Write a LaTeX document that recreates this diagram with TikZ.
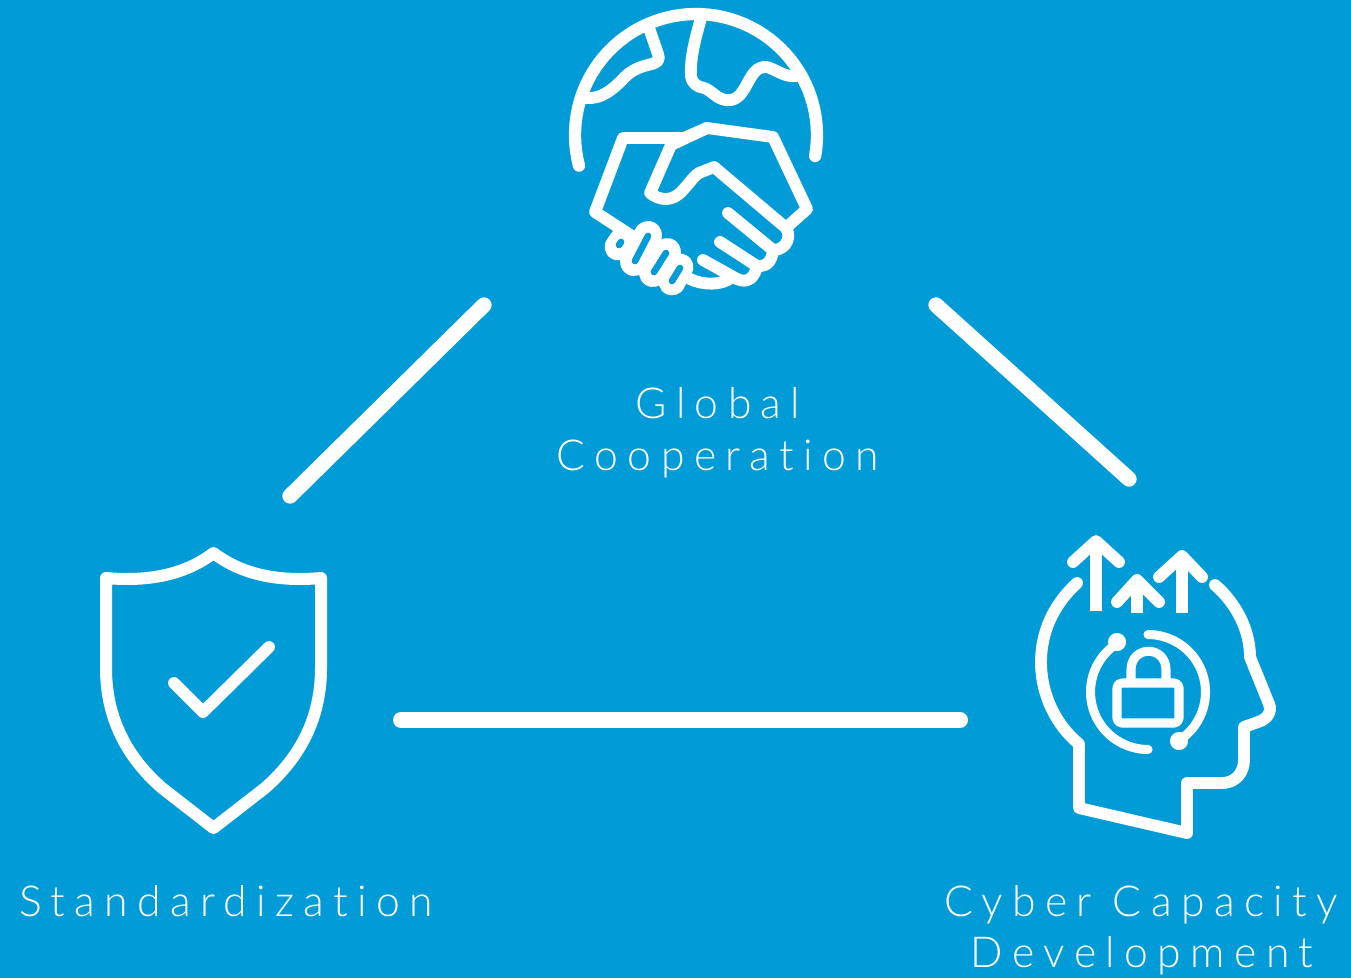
\documentclass[tikz,border=0pt]{standalone}
\usepackage{fontspec}
\setmainfont[LetterSpace=22,Ligatures={NoCommon}]{Lato Light}
\definecolor{bg}{HTML}{019BD7}
\tikzset{
  ico/.style={draw=white,line width=8.9pt,line cap=round,line join=round},
  thin/.style={draw=white,line width=6.8pt,line cap=round,line join=round},
  link/.style={draw=white,line width=11.5pt,line cap=round},
  lbl/.style={text=white,font=\fontsize{32}{32}\selectfont,inner sep=0pt,anchor=base}
}
\begin{document}
\begin{tikzpicture}[x=0.75pt,y=-0.75pt]
\useasboundingbox (0,0) rectangle (1351,978);
\fill[bg] (0,0) rectangle (1351,978);
% connector ends
\coordinate (a1) at (484,305); \coordinate (a2) at (290,496);
\coordinate (b1) at (936,305); \coordinate (b2) at (1129,479);
\coordinate (c1) at (401,720); \coordinate (c2) at (960,720);
\draw[link] (a1) -- (a2);
\draw[link] (b1) -- (b2);
\draw[link,line width=12pt] (c1) -- (c2);
% globe
\draw[ico,line width=9.2pt] plot[domain=-10:194.7,samples=60,variable=\t] ({696+121*cos(\t)},{135-121*sin(\t)});
\draw[ico] (649,28) -- (658,54) .. controls (660,60) and (658,62) .. (652,64)
  .. controls (638,67) and (630,71) .. (622,80) .. controls (610,92) and (600,99) .. (586,98);
\draw[ico] (701,18) .. controls (695,40) and (690,58) .. (691,76)
  .. controls (692,84) and (698,87) .. (704,88) .. controls (712,90) and (718,102) .. (731,100)
  .. controls (748,97) and (748,66) .. (766,67) .. controls (774,68) and (785,78) .. (796,76);
% handshake
\draw[ico] (638,240) -- (595,212) -- (623,138) -- (684,138) -- (707,128) -- (773,137) -- (807,209) -- (788,226);
\draw[ico] (707,128) -- (671,145) -- (650,193) .. controls (660,201) and (673,202) .. (683,190)
  .. controls (692,180) and (695,175) .. (699,173) -- (714,167) -- (785,227)
  .. controls (792,234) and (788,250) .. (773,250);
\draw[ico] (728,213) -- (773,250);
\draw[ico] (773,250) .. controls (772,260) and (768,267) .. (757,266);
\draw[ico] (720,242) -- (757,266);
\draw[ico] (757,266) .. controls (755,277) and (748,284) .. (737,279);
\draw[ico] (703,260) -- (737,279);
\draw[ico] (690,279) .. controls (702,285) and (722,286) .. (732,277);
% fingers
\foreach \ax/\ay/\bx/\by/\w in {622/241/618/247/20,648/235/634/262/21,667/252/653/273/21,680/267/672/282/20}{
  \draw[white,line width=\w pt,line cap=round] (\ax,\ay) -- (\bx,\by);
}
\foreach \ax/\ay/\bx/\by in {621/242/619/245,648/236/635/261,666/253/654/272,680/268/672/281}{
  \draw[bg,line width=5pt,line cap=round] (\ax,\ay) -- (\bx,\by);
}
% shield
\draw[ico,line width=9pt] (213.5,553) .. controls (186,574) and (150,582) .. (106,578) -- (106,668)
  .. controls (106,712) and (122,753) .. (162,788) -- (213.5,828) -- (265,788)
  .. controls (305,753) and (321,712) .. (321,668) -- (321,578)
  .. controls (277,582) and (241,574) .. (213.5,553) -- cycle;
\draw[ico] (174,683) -- (203,712) -- (269,647);
% head
\draw[ico] (1077,583) .. controls (1052,606) and (1041,634) .. (1041,662)
  .. controls (1041,695) and (1056,725) .. (1079,744) -- (1079,808) -- (1187,833) -- (1187,783) -- (1222,783)
  .. controls (1236,783) and (1244,772) .. (1244,760) -- (1244,727) -- (1258,722)
  .. controls (1268,719) and (1272,711) .. (1269,704) -- (1250,657)
  .. controls (1250,630) and (1236,603) .. (1215,585);
% arrows
\draw[ico,line cap=butt] (1096,611) -- (1096,545);
\draw[ico,line cap=butt] (1137,613) -- (1137,584);
\draw[ico,line cap=butt] (1182,613) -- (1182,560);
\draw[ico] (1073,562) -- (1096,541) -- (1119,562);
\draw[ico] (1117,602) -- (1137,580) -- (1159,602);
\draw[ico] (1159,577) -- (1182,556) -- (1202,577);
% lock ring
\draw[thin] plot[domain=122:270,samples=40,variable=\t] ({1148+57.5*cos(\t)},{692-57.5*sin(\t)});
\draw[thin] plot[domain=90:-58,samples=40,variable=\t] ({1148+57.5*cos(\t)},{692-57.5*sin(\t)});
\coordinate (d1) at (1117,642); \coordinate (d2) at (1179,741);
\fill[white] (d1) circle[radius=6.8pt];
\fill[white] (d2) circle[radius=6.8pt];
\draw[thin,rounded corners=3.5pt] (1117,683) rectangle (1179,723);
\draw[thin,line cap=butt] (1131,682) -- (1131,670) .. controls (1131,645) and (1166,645) .. (1166,670) -- (1166,682);
% labels
\node[lbl] (g1) at (718,418) {Global};
\node[lbl] (g2) at (718,470) {Cooperation};
\node[lbl] (s1) at (226,916) {Standardization};
\node[lbl] (c3) at (1141,916) {Cyber Capacity};
\node[lbl] (c4) at (1142,967) {Development};
\end{tikzpicture}
\end{document}
